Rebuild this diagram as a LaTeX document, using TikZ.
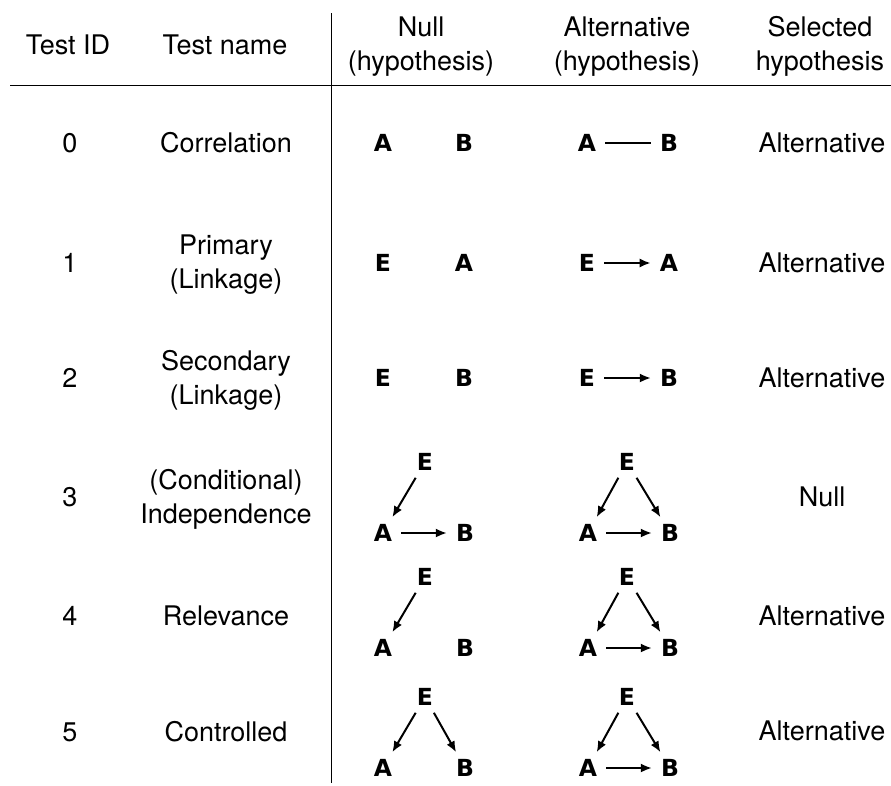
\documentclass[tikz,border=0pt]{standalone}
\usepackage{fontspec}
\setmainfont{TeX Gyre Heros}
\newfontfamily\lblfont{DejaVu Sans}
\usetikzlibrary{arrows.meta}
\tikzset{
  txt/.style={font=\fontsize{27}{34}\selectfont, align=center, inner sep=0pt},
  vx/.style={font=\lblfont\bfseries\fontsize{23.5}{27}\selectfont, inner xsep=9pt, inner ysep=7pt},
  arr/.style={-{Latex[length=11pt,width=9pt]}, line width=2pt},
  edge0/.style={line width=2pt},
  rule/.style={line width=1pt}
}
\begin{document}
\begin{tikzpicture}[x=1pt,y=-1pt]
\useasboundingbox (0,0) rectangle (891,785);
% table rules
\coordinate (hl) at (10,85);
\coordinate (hr) at (891,85);
\coordinate (vt) at (331.5,13);
\coordinate (vb) at (331.5,783);
\draw[rule] (hl) -- (hr);
\draw[rule] (vt) -- (vb);
% header
\node[txt] (h1) at (68,45) {Test ID};
\node[txt] (h2) at (225,45) {Test name};
\node[txt] (h3) at (421,47) {Null\\(hypothesis)};
\node[txt] (h4) at (627,47) {Alternative\\(hypothesis)};
\node[txt] (h5) at (820,46) {Selected\\hypothesis};
% IDs
\node[txt] (id0) at (70,143) {0};
\node[txt] (id1) at (70,263) {1};
\node[txt] (id2) at (70,378) {2};
\node[txt] (id3) at (70,497) {3};
\node[txt] (id4) at (70,616) {4};
\node[txt] (id5) at (70,732) {5};
% names
\node[txt] (n0) at (226,143) {Correlation};
\node[txt] (n1) at (226,265) {Primary\\(Linkage)};
\node[txt] (n2) at (226,380) {Secondary\\(Linkage)};
\node[txt] (n3) at (226,499) {(Conditional)\\Independence};
\node[txt] (n4) at (226,616) {Relevance};
\node[txt] (n5) at (226,732) {Controlled};
% selected
\node[txt] (s0) at (822,143) {Alternative};
\node[txt] (s1) at (822,263) {Alternative};
\node[txt] (s2) at (822,378) {Alternative};
\node[txt] (s3) at (822,497) {Null};
\node[txt] (s4) at (822,616) {Alternative};
\node[txt] (s5) at (822,731) {Alternative};
% row 0
\node[vx] (a0n) at (383,143) {A};
\node[vx] (b0n) at (464,143) {B};
\node[vx] (a0a) at (587,143) {A};
\node[vx] (b0a) at (669,143) {B};
\draw[edge0] (a0a) -- (b0a);
% row 1
\node[vx] (e1n) at (383,263) {E};
\node[vx] (a1n) at (464,263) {A};
\node[vx] (e1a) at (587,263) {E};
\node[vx] (a1a) at (669,263) {A};
\draw[arr] (e1a) -- (a1a);
% row 2
\node[vx] (e2n) at (383,378) {E};
\node[vx] (b2n) at (464,378) {B};
\node[vx] (e2a) at (587,378) {E};
\node[vx] (b2a) at (669,378) {B};
\draw[arr] (e2a) -- (b2a);
% row 3
\node[vx] (e3n) at (425,462) {E};
\node[vx] (a3n) at (383,533) {A};
\node[vx] (b3n) at (465,533) {B};
\draw[arr] (e3n) -- (a3n);
\draw[arr] (a3n) -- (b3n);
\node[vx] (e3a) at (627,462) {E};
\node[vx] (a3a) at (588,533) {A};
\node[vx] (b3a) at (670,533) {B};
\draw[arr] (e3a) -- (a3a);
\draw[arr] (e3a) -- (b3a);
\draw[arr] (a3a) -- (b3a);
% row 4
\node[vx] (e4n) at (425,577) {E};
\node[vx] (a4n) at (383,648) {A};
\node[vx] (b4n) at (465,648) {B};
\draw[arr] (e4n) -- (a4n);
\node[vx] (e4a) at (627,577) {E};
\node[vx] (a4a) at (588,648) {A};
\node[vx] (b4a) at (670,648) {B};
\draw[arr] (e4a) -- (a4a);
\draw[arr] (e4a) -- (b4a);
\draw[arr] (a4a) -- (b4a);
% row 5
\node[vx] (e5n) at (425,697) {E};
\node[vx] (a5n) at (383,768) {A};
\node[vx] (b5n) at (465,768) {B};
\draw[arr] (e5n) -- (a5n);
\draw[arr] (e5n) -- (b5n);
\node[vx] (e5a) at (627,697) {E};
\node[vx] (a5a) at (588,768) {A};
\node[vx] (b5a) at (670,768) {B};
\draw[arr] (e5a) -- (a5a);
\draw[arr] (e5a) -- (b5a);
\draw[arr] (a5a) -- (b5a);
\end{tikzpicture}
\end{document}
